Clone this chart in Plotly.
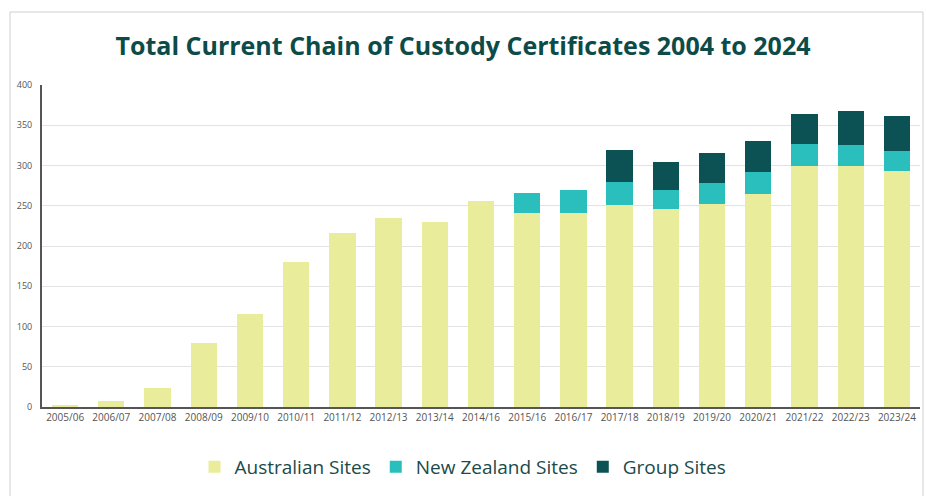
import plotly.graph_objects as go

years = ["2005/06", "2006/07", "2007/08", "2008/09", "2009/10", "2010/11", "2011/12",
         "2012/13", "2013/14", "2014/16", "2015/16", "2016/17", "2017/18", "2018/19",
         "2019/20", "2020/21", "2021/22", "2022/23", "2023/24"]
australian = [3, 7, 23, 79, 115, 180, 216, 235, 230, 256, 241, 241, 251, 246, 252, 265, 300, 300, 293]
new_zealand = [0, 0, 0, 0, 0, 0, 0, 0, 0, 0, 25, 29, 29, 24, 26, 27, 27, 26, 25]
group = [0, 0, 0, 0, 0, 0, 0, 0, 0, 0, 0, 0, 39, 34, 38, 38, 37, 42, 43]
y_ticks = [0, 50, 100, 150, 200, 250, 300, 350, 400]

fig = go.Figure()
fig.add_bar(x=years, y=australian, name="Australian Sites", marker_color="#e9ec9b",
            marker_line_width=0)
fig.add_bar(x=years, y=new_zealand, name="New Zealand Sites", marker_color="#2abfbd",
            marker_line_width=0)
fig.add_bar(x=years, y=group, name="Group Sites", marker_color="#0c5254",
            marker_line_width=0)

fig.update_layout(
    barmode="stack",
    bargap=0.43,
    width=926, height=496,
    margin=dict(l=42, r=6, t=85, b=89),
    paper_bgcolor="white", plot_bgcolor="white",
    title=dict(text="<b>Total Current Chain of Custody Certificates 2004 to 2024</b>",
               x=0.5, xanchor="center", y=1 - 46 / 496, yanchor="middle",
               font=dict(family="Open Sans", size=25, color="#0d4b48")),
    legend=dict(orientation="h", x=0.5 - 18 / 878, xanchor="center", y=-0.186, yanchor="middle",
                font=dict(family="Open Sans", size=19, color="#1a4a4a"),
                itemwidth=30, traceorder="normal"),
    font=dict(family="Open Sans"),
    shapes=[dict(type="rect", xref="paper", yref="paper",
                 x0=-32 / 878, x1=881 / 878, y0=-0.5, y1=(407 - 12) / 322,
                 line=dict(color="#cfcfcf", width=1), fillcolor="rgba(0,0,0,0)", layer="below")],
)
fig.update_xaxes(showline=True, linecolor="#555555", linewidth=2, ticks="",
                 tickfont=dict(size=10, color="#555555", family="Open Sans"),
                 showgrid=False)
fig.update_yaxes(range=[0, 400], tickvals=y_ticks, showline=True, linecolor="#555555",
                 linewidth=2, gridcolor="#e3e3e3", gridwidth=1, zeroline=False,
                 tickfont=dict(size=9, color="#555555", family="Open Sans"), ticklabelstandoff=6)

fig.write_html("out.html", config={"displayModeBar": False},
               post_script="document.body.style.margin='0px';")
